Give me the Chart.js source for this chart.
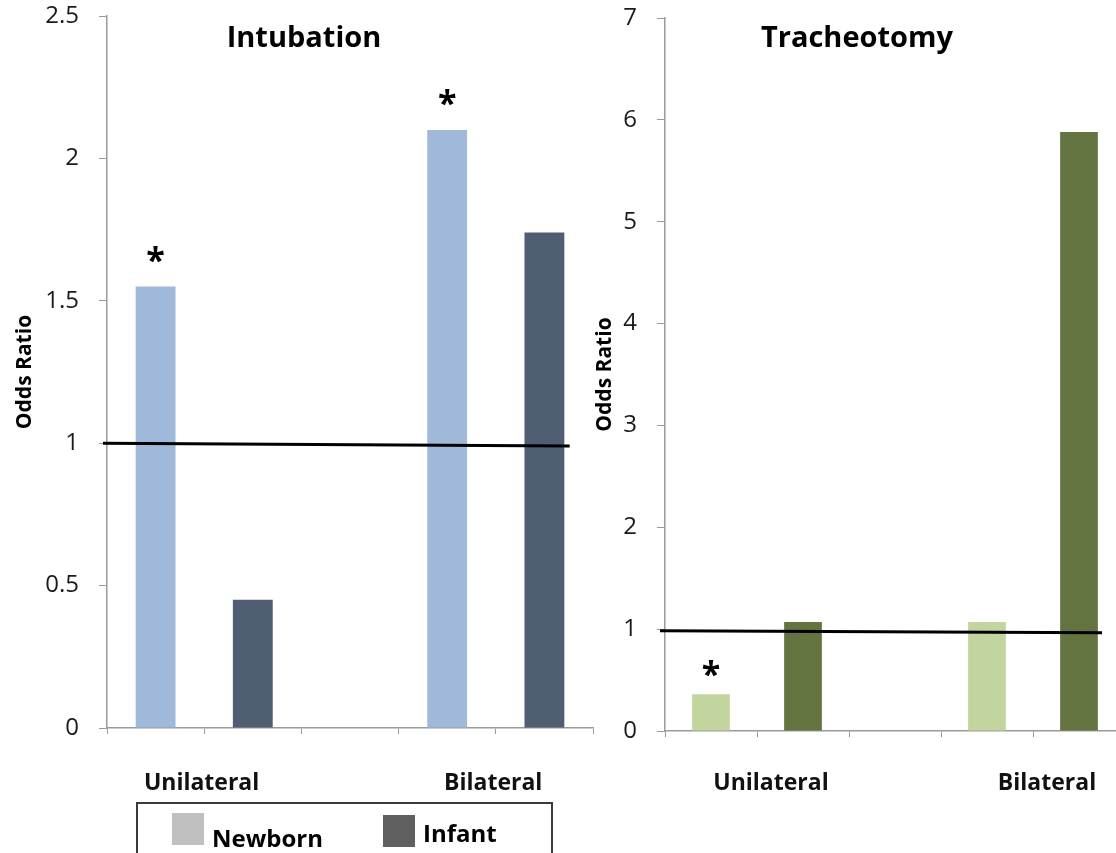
<!DOCTYPE html>
<html>
<head>
<meta charset="utf-8">
<script src="https://cdn.jsdelivr.net/npm/chart.js@4"></script>
<style>
  html, body { margin: 0; padding: 0; background: #fff; overflow: hidden; width: 1116px; height: 853px; }
  #c1 { position: absolute; left: 0; top: 0; }
  #c2 { position: absolute; left: 580px; top: 0; }
</style>
</head>
<body>
<canvas id="c1" width="608" height="853"></canvas>
<canvas id="c2" width="560" height="853"></canvas>
<script>
// ---------------- data ----------------
const categories = ['Unilateral', 'Bilateral'];
const seriesNames = ['Newborn', 'Infant'];

const intubationTitle = 'Intubation';
const intubationNewborn = [1.55, 2.10];
const intubationInfant = [0.45, 1.74];
const intubationStar = [true, true];          // * over Newborn bars
const intubationTicks = [0, 0.5, 1, 1.5, 2, 2.5];

const tracheotomyTitle = 'Tracheotomy';
const tracheotomyNewborn = [0.36, 1.07];
const tracheotomyInfant = [1.07, 5.88];
const tracheotomyStar = [true, false];
const tracheotomyTicks = [0, 1, 2, 3, 4, 5, 6, 7];

const referenceOR = 1;
const refLineIntubation = [1.0, 0.99];       // hand-drawn reference line (start, end)
const refLineTracheotomy = [0.985, 0.965];

const yAxisTitle = 'Odds Ratio';

// ---------------- helpers ----------------
const FONT = '"Open Sans", Lato, "DejaVu Sans", sans-serif';

function buildSlots(newborn, infant) {
  const n = categories.length;
  const total = n * 3 - 1;
  const nb = Array(total).fill(null), inf = Array(total).fill(null), labels = Array(total).fill('');
  categories.forEach((c, i) => {
    nb[i * 3] = newborn[i];
    inf[i * 3 + 1] = infant[i];
    labels[i * 3] = c;
  });
  return { nb, inf, labels };
}

const overlayPlugin = {
  id: 'overlay',
  afterDatasetsDraw(chart, args, opts) {
    const ctx = chart.ctx;
    const xs = chart.scales.x, ys = chart.scales.y;
    const slotW = xs.getPixelForValue(1) - xs.getPixelForValue(0);
    // reference line at OR = 1
    ctx.save();
    ctx.strokeStyle = '#000';
    ctx.lineWidth = 3;
    ctx.beginPath();
    ctx.moveTo(chart.chartArea.left - opts.lineStartGap, ys.getPixelForValue(opts.refLine[0]));
    ctx.lineTo(xs.getPixelForValue(xs.ticks.length - 1) + opts.lineEndSlots * slotW, ys.getPixelForValue(opts.refLine[1]));
    ctx.stroke();
    ctx.restore();

    // asterisks
    const meta = chart.getDatasetMeta(0);
    ctx.save();
    ctx.fillStyle = '#000';
    ctx.font = 'bold 34px ' + FONT;
    ctx.textAlign = 'center';
    ctx.textBaseline = 'alphabetic';
    const m = ctx.measureText('*');
    const glyphMid = (m.actualBoundingBoxAscent - m.actualBoundingBoxDescent) / 2;
    opts.stars.forEach((s, i) => {
      if (!s) return;
      const bar = meta.data[i * 3];
      ctx.fillText('*', bar.x, bar.y - opts.starGap + glyphMid);
    });
    ctx.restore();

    // panel title
    ctx.save();
    ctx.fillStyle = '#000';
    ctx.font = 'bold 29px ' + FONT;
    ctx.textAlign = 'center';
    ctx.textBaseline = 'alphabetic';
    ctx.fillText(opts.title, chart.width / 2 + opts.titleShift, opts.titleBaseline);
    ctx.restore();

    // manual legend box
    if (opts.legend) {
      const L = opts.legend;
      ctx.save();
      ctx.strokeStyle = '#3a3a3a';
      ctx.lineWidth = 2;
      ctx.strokeRect(L.x, L.y, L.w, L.h);
      L.items.forEach((it, k) => {
        ctx.fillStyle = it.color;
        ctx.fillRect(it.sx, it.sy, 32, 32);
        ctx.fillStyle = '#000';
        ctx.font = 'bold 24px ' + FONT;
        ctx.textAlign = 'left';
        ctx.textBaseline = 'alphabetic';
        ctx.fillText(seriesNames[k], it.tx, it.ty);
      });
      ctx.restore();
    }
  }
};

function makeChart(id, cfg) {
  const s = buildSlots(cfg.newborn, cfg.infant);
  return new Chart(document.getElementById(id), {
    type: 'bar',
    data: {
      labels: s.labels,
      datasets: [
        { label: seriesNames[0], data: s.nb, backgroundColor: cfg.colors[0], grouped: false,
          categoryPercentage: 1, barPercentage: 0.41 },
        { label: seriesNames[1], data: s.inf, backgroundColor: cfg.colors[1], grouped: false,
          categoryPercentage: 1, barPercentage: 0.41 }
      ]
    },
    options: {
      responsive: false,
      animation: false,
      devicePixelRatio: 1,
      layout: { padding: { left: 0, right: 15, top: cfg.top, bottom: 0 } },
      plugins: {
        legend: { display: false },
        tooltip: { enabled: false },
        title: { display: false },
        overlay: cfg.overlay
      },
      scales: {
        x: {
          offset: true,
          grid: { offset: true, drawOnChartArea: false, tickLength: 6, color: '#9a9a9a' },
          border: { color: '#9a9a9a', width: 1.5 },
          ticks: {
            autoSkip: false, maxRotation: 0, padding: cfg.xPad, labelOffset: cfg.labelOffset,
            color: '#111', font: { family: FONT, size: 23, weight: 'bold' }
          },
          afterFit: sc => { sc.height = cfg.xHeight; sc.paddingLeft = 0; sc.paddingRight = 0; }
        },
        y: {
          min: 0,
          max: cfg.ticks[cfg.ticks.length - 1],
          afterBuildTicks: sc => { sc.ticks = cfg.ticks.map(v => ({ value: v })); },
          grid: { drawOnChartArea: false, tickLength: 8, color: '#9a9a9a' },
          border: { color: '#9a9a9a', width: 1.5 },
          ticks: { padding: 20, color: '#1a1a1a', font: { family: FONT, size: 24 },
                   callback: v => String(Number(v)) },
          title: { display: true, text: yAxisTitle, color: '#000',
                   font: { family: FONT, size: 21, weight: 'bold' }, padding: { top: 12, bottom: 0 } },
          afterFit: sc => { sc.width = cfg.yWidth; sc.paddingTop = 0; sc.paddingBottom = 0; }
        }
      }
    },
    plugins: [overlayPlugin]
  });
}

makeChart('c1', {
  newborn: intubationNewborn, infant: intubationInfant,
  colors: ['#a0b9da', '#505e73'],
  ticks: intubationTicks, top: 16, yWidth: 107, xHeight: 125, xPad: 36, labelOffset: 46,
  overlay: {
    title: intubationTitle, titleShift: 0, titleBaseline: 47,
    refLine: refLineIntubation, lineStartGap: 4, lineEndSlots: 0.26,
    stars: intubationStar, starGap: 32,
    legend: {
      x: 137, y: 803, w: 415, h: 80,
      items: [
        { color: '#c0c0c0', sx: 172, sy: 813, tx: 212, ty: 847 },
        { color: '#5f5f5f', sx: 383, sy: 815, tx: 423, ty: 842 }
      ]
    }
  }
});

makeChart('c2', {
  newborn: tracheotomyNewborn, infant: tracheotomyInfant,
  colors: ['#c3d59e', '#637441'],
  ticks: tracheotomyTicks, top: 18, yWidth: 85, xHeight: 122, xPad: 33, labelOffset: 60,
  overlay: {
    title: tracheotomyTitle, titleShift: -3, titleBaseline: 47,
    refLine: refLineTracheotomy, lineStartGap: 5, lineEndSlots: 0.25,
    stars: tracheotomyStar, starGap: 26,
    legend: null
  }
});
</script>
</body>
</html>
